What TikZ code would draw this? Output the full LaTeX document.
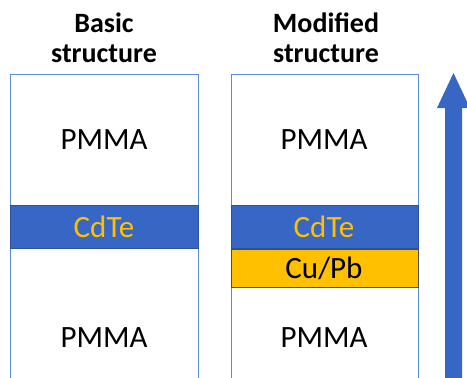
\documentclass[tikz,border=0pt]{standalone}
\usepackage{fontspec}
\setmainfont{Carlito}
\definecolor{layerblue}{HTML}{3766C4}
\definecolor{edgeblue}{HTML}{5B8BDB}
\definecolor{cuyellow}{HTML}{FFC000}
\tikzset{
    title/.style={font=\fontsize{28}{30}\selectfont\bfseries, align=center},
    label/.style={font=\fontsize{31}{34}\selectfont},
}
\begin{document}
\begin{tikzpicture}[x=1pt,y=-1pt]
    \clip (0,0) rectangle (467,378);
    
    \draw[edgeblue, line width=1pt] (10,74) rectangle (198,400);
    \draw[edgeblue, line width=1pt] (231,74) rectangle (418,400);
    
    \draw[layerblue!80!black, fill=layerblue] (10,205) rectangle (198,248);
    \draw[layerblue!80!black, fill=layerblue] (231,205) rectangle (418,248);
    \draw[black!70, fill=cuyellow] (231,249) rectangle (418,287);
    
    \node[title] (basic) at (104,38) {Basic\\structure};
    \node[title] (modified) at (326,38) {Modified\\structure};
    
    \node[label] (pmma1) at (104,140) {PMMA};
    \node[label, text=cuyellow] (cdte1) at (104,227) {CdTe};
    \node[label] (pmma2) at (104,338) {PMMA};
    
    \node[label] (pmma3) at (324,140) {PMMA};
    \node[label, text=cuyellow] (cdte2) at (324,227) {CdTe};
    \node[label] (cupb) at (324,268) {Cu/Pb};
    \node[label] (pmma4) at (324,338) {PMMA};
    
    \fill[layerblue] (445,400) -- (445,108) -- (437,108) -- (453.5,73)
        -- (470,108) -- (462,108) -- (462,400) -- cycle;
\end{tikzpicture}
\end{document}
